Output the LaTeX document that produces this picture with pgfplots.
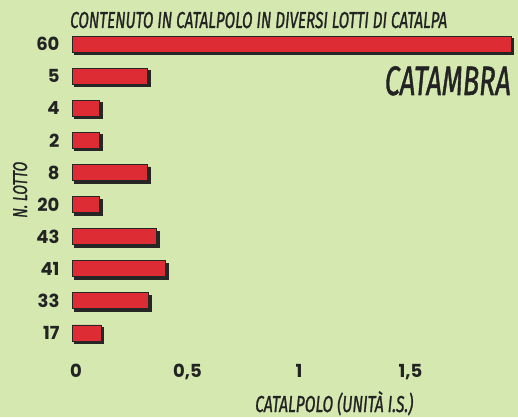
\documentclass[border=0pt]{standalone}
\usepackage{fontspec}
\usepackage{pgfplots}
\pgfplotsset{compat=1.18}
\setmainfont{Poppins}
\newfontfamily\cond[FakeBold=1.4]{Fira Sans}
\definecolor{bg}{RGB}{212,232,176}
\definecolor{barred}{RGB}{222,44,52}
\definecolor{ink}{RGB}{35,35,35}
\begin{document}
\begin{tikzpicture}[x=1pt,y=1pt]
\fill[bg] (0,0) rectangle (518,417);
\begin{axis}[
  at={(72pt,68pt)}, anchor=south west, scale only axis,
  width=443pt, height=321pt,
  xmin=0, xmax=1.987, ymin=-0.5, ymax=9.5, y dir=reverse,
  axis line style={draw=none}, tick style={draw=none},
  major tick length=0pt,
  /pgf/number format/assume math mode=true,
  xtick={0,0.5,1,1.5}, xticklabels={0,{0,5},1,{1,5}},
  ytick={0,...,9}, yticklabels={60,5,4,2,8,20,43,41,33,17},
  ticklabel style={font=\fontsize{18}{18}\selectfont\bfseries, text=ink},
  xticklabel style={yshift=-12pt, xshift=4pt},
  yticklabel style={xshift=-9pt},
  xbar, bar width=16pt,
  clip=false,
]
\addplot[fill=barred, draw=black!85, line width=0.9pt,
  preaction={fill=black!85, transform canvas={shift={(2.5pt,-2.5pt)}}}]
  coordinates {(1.97,0) (0.34,1) (0.125,2) (0.125,3) (0.34,4) (0.125,5) (0.38,6) (0.42,7) (0.345,8) (0.13,9)};
\end{axis}
\node[anchor=base west, inner sep=0, text=ink] at (70,389)
  {\resizebox{377pt}{\height}{\fontsize{23}{23}\selectfont\cond\itshape CONTENUTO IN CATALPOLO IN DIVERSI LOTTI DI CATALPA}};
\node[anchor=base east, inner sep=0, text=ink] at (511,322)
  {\resizebox{126pt}{\height}{\fontsize{41}{41}\selectfont\cond\itshape CATAMBRA}};
\node[anchor=base west, inner sep=0, text=ink] at (255,5)
  {\resizebox{158pt}{\height}{\fontsize{23}{23}\selectfont\cond\itshape CATALPOLO (UNITÀ I.S.)}};
\node[anchor=base west, inner sep=0, text=ink, rotate=90] at (27,199)
  {\resizebox{56pt}{\height}{\fontsize{20}{20}\selectfont\cond\itshape N. LOTTO}};
\end{tikzpicture}
\end{document}
